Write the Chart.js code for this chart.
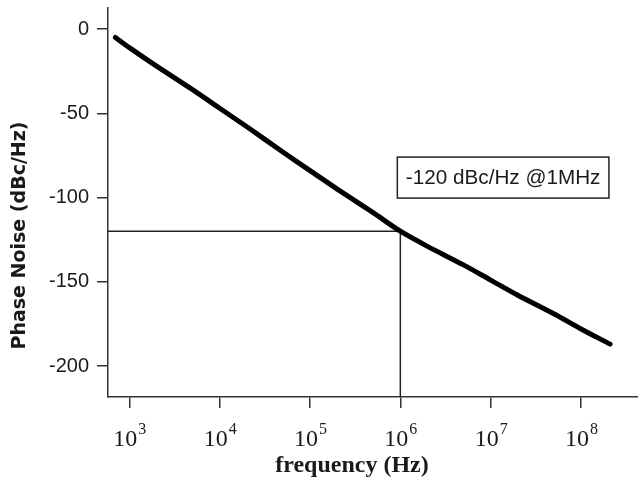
<!DOCTYPE html>
<html>
<head>
<meta charset="utf-8">
<style>
  html, body { margin: 0; padding: 0; background: #fff; }
  #wrap { width: 638px; height: 499px; }
</style>
</head>
<body>
<div id="wrap"><canvas id="myChart"></canvas></div>

<script src="https://cdn.jsdelivr.net/npm/chart.js"></script>
<script>

// phase noise curve
const freq  = [700, 1e3, 2e3, 5e3, 1e4, 2e4, 5e4, 1e5, 2e5, 5e5, 1e6, 2e6, 5e6, 1e7, 2e7, 5e7, 1e8, 2.1e8];
const noise = [-5, -11, -22, -36, -47, -58, -73, -84, -95, -109, -120, -129, -140, -149, -158, -169, -178, -187];

// the 1 MHz marker
const markFreq  = 1e6;
const markNoise = -120;
const markLabel = '-120 dBc/Hz @1MHz';

// axes
const xExps  = [3, 4, 5, 6, 7, 8];
const yTicks = [0, -50, -100, -150, -200];
const xMin = 580, xMax = 4.28e8;
const yMin = -218.4, yMax = 12.5;
const xTitle = 'frequency (Hz)';
const yTitle = 'Phase Noise (dBc/Hz)';

const ink = '#1a1a1a';

const curve = freq.map((f, i) => ({ x: f, y: noise[i] }));
const cross = [
	{ x: xMin, y: markNoise },
	{ x: markFreq, y: markNoise },
	{ x: markFreq, y: yMin }
];

// 10^n labels under the x axis, plus both axis titles
const axisText = {
	id: 'axisText',
	afterDraw(chart) {
		const ctx = chart.ctx;
		const xs = chart.scales.x;
		const area = chart.chartArea;
		const base = xs.top + 49;
		ctx.save();
		ctx.fillStyle = ink;
		ctx.textBaseline = 'alphabetic';
		ctx.textAlign = 'left';
		xExps.forEach((e) => {
			const px = xs.getPixelForValue(Math.pow(10, e));
			ctx.font = '24px "Liberation Serif"';
			const w1 = ctx.measureText('10').width;
			ctx.font = '16px "Liberation Serif"';
			const w2 = ctx.measureText(String(e)).width;
			const left = px - (w1 + w2) / 2;
			ctx.font = '24px "Liberation Serif"';
			ctx.fillText('10', left, base);
			ctx.font = '16px "Liberation Serif"';
			ctx.fillText(String(e), left + w1 + 1, base - 12);
		});

		// x title
		ctx.textAlign = 'center';
		ctx.textBaseline = 'middle';
		ctx.font = 'bold 24px "Liberation Serif"';
		ctx.fillText(xTitle, area.left + 244, xs.bottom - 33);

		// y title, rotated
		ctx.font = 'bold 19px "DejaVu Sans"';
		ctx.translate(20, (area.top + area.bottom) / 2 + 33);
		ctx.rotate(-Math.PI / 2);
		ctx.fillText(yTitle, 0, 0);
		ctx.restore();
	}
};

// boxed note next to the marker
const noteBox = {
	id: 'noteBox',
	afterDatasetsDraw(chart) {
		const ctx = chart.ctx;
		const left = chart.scales.x.getPixelForValue(markFreq) - 3;
		const top = chart.scales.y.getPixelForValue(-76);
		ctx.save();
		ctx.font = '20px "Liberation Sans"';
		const size = 20 * 195 / ctx.measureText(markLabel).width;
		ctx.font = size.toFixed(1) + 'px "Liberation Sans"';
		const w = ctx.measureText(markLabel).width + 17;
		const h = 41;
		ctx.fillStyle = '#fff';
		ctx.fillRect(left, top, w, h);
		ctx.strokeStyle = '#222';
		ctx.lineWidth = 1.5;
		ctx.strokeRect(left, top, w, h);
		ctx.fillStyle = ink;
		ctx.textBaseline = 'middle';
		ctx.fillText(markLabel, left + 8.5, top + h / 2 + 1);
		ctx.restore();
	}
};

const ctx = document.getElementById('myChart');

const chart = new Chart(ctx, {
	type: 'line',
	data: {
		datasets: [
			{
				label: 'Phase Noise',
				data: curve,
				borderColor: '#000',
				borderWidth: 5,
				borderCapStyle: 'round',
				pointRadius: 0,
				tension: 0.3,
				fill: false
			},
			{
				label: 'marker',
				data: cross,
				borderColor: '#222',
				borderWidth: 1.5,
				pointRadius: 0,
				tension: 0,
				fill: false
			}
		]
	},
	options: {
		responsive: true,
		maintainAspectRatio: false,
		animation: false,
		layout: { padding: { top: 8, left: 0, right: 0, bottom: 0 } },
		plugins: {
			legend: { display: false },
			tooltip: { enabled: false }
		},
		scales: {
			x: {
				type: 'logarithmic',
				min: xMin,
				max: xMax,
				afterBuildTicks: (s) => { s.ticks = xExps.map((e) => ({ value: Math.pow(10, e) })); },
				afterFit: (s) => { s.height = 102; },
				ticks: { display: false },
				grid: { drawOnChartArea: false, tickLength: 11, color: '#333', lineWidth: 1.5 },
				border: { color: '#333', width: 1.5 }
			},
			y: {
				type: 'linear',
				min: yMin,
				max: yMax,
				afterBuildTicks: (s) => { s.ticks = yTicks.map((v) => ({ value: v })); },
				// fixed width, and no extra room for the top label
				afterFit: (s) => { s.width = 108; s.paddingTop = 0; s.paddingBottom = 0; },
				ticks: {
					color: ink,
					padding: 8,
					font: { family: 'Liberation Sans', size: 20 }
				},
				grid: { drawOnChartArea: false, tickLength: 11, color: '#333', lineWidth: 1.5 },
				border: { color: '#333', width: 1.5 }
			}
		}
	},
	plugins: [axisText, noteBox]
});

</script>
</body>
</html>
